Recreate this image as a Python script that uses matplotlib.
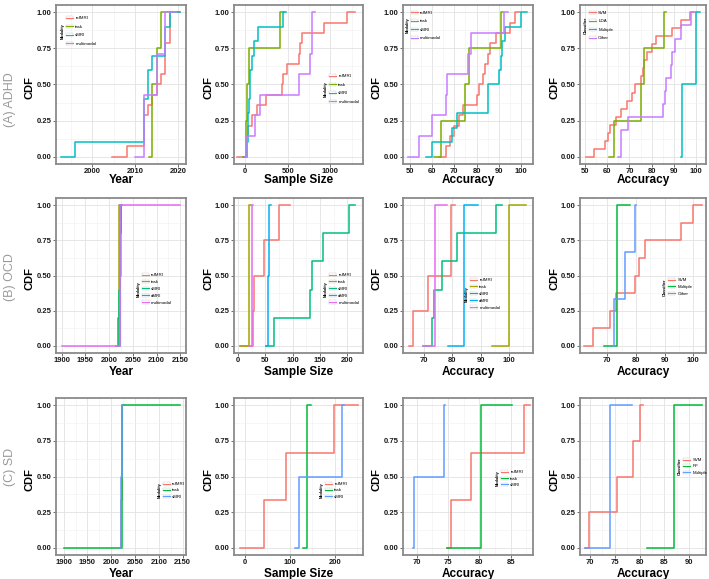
import numpy as np
import matplotlib.pyplot as plt
from matplotlib.lines import Line2D
from matplotlib.patches import Rectangle
from matplotlib.ticker import FixedLocator

plt.rcParams['font.family'] = ['Liberation Sans', 'DejaVu Sans']

# ---------------- data ----------------
mod3 = ['rsfMRI', 'task', 'sMRI']
mod4 = ['rsfMRI', 'task', 'sMRI', 'multimodal']
mod5 = ['rsfMRI', 'task', 'sMRI', 'dMRI', 'multimodal']
clf_adhd = ['SVM', 'LDA', 'Multiple', 'Other']
clf_ocd = ['SVM', 'Multiple', 'Other']
clf_sd = ['SVM', 'RF', 'Multiple']

hue3 = ['#F8766D', '#00BA38', '#619CFF']
hue4 = ['#F8766D', '#7CAE00', '#00BFC4', '#C77CFF']
hue5 = ['#F8766D', '#A3A500', '#00BF7D', '#00B0F6', '#E76BF3']

# (A) ADHD
adhd_year_rsfmri = [2008, 2012, 2012, 2012, 2013, 2014, 2015, 2016, 2017, 2017, 2017, 2018, 2018, 2018]
adhd_year_task = [2014, 2014, 2015, 2016]
adhd_year_smri = [1996, 2012, 2012, 2012, 2013, 2013, 2014, 2017, 2017, 2018]
adhd_year_multi = [2012, 2012, 2012, 2015, 2015, 2017, 2017]
adhd_year_span = [(2004.6, 2020.4), (2013.1, 2018.5), (1992.7, 2020.4), (2010.0, 2019.5)]

adhd_n_rsfmri = [20, 30, 40, 80, 140, 250, 430, 450, 490, 630, 640, 670, 920, 1200]
adhd_n_task = [15, 25, 50, 415]
adhd_n_smri = [25, 35, 40, 50, 55, 65, 78, 105, 155, 450]
adhd_n_multi = [20, 120, 175, 630, 765, 790, 790]
adhd_n_span = [(-90, 1290), (-20, 455), (-10, 475), (0, 825)]

adhd_acc_rsfmri = [66, 68, 70, 72, 74, 80, 81, 83, 84, 85, 86, 89, 95, 97.5]
adhd_acc_task = [64, 75, 76.5, 91]
adhd_acc_smri = [60, 69, 71, 85, 85, 90, 91, 91.5, 93, 100]
adhd_acc_multi = [54, 60, 66, 66.5, 76, 77.5, 92.5]
adhd_acc_span = [(63, 99.8), (61, 92), (57, 103), (49, 94)]

adhd_clf_svm = [54, 59, 60.5, 61.5, 64, 66, 69, 71, 72.5, 75, 76, 76.5, 78, 80, 82, 89, 93, 97]
adhd_clf_lda = [63, 75, 76.5, 85.5]
adhd_clf_multiple = [93.5, 100]
adhd_clf_other = [66, 66, 69.5, 85, 86, 86.5, 88.5, 89, 90.5, 93, 97.5]
adhd_clf_span = [(50.5, 99.5), (61, 86.5), (93, 101.5), (65, 99)]

# (B) OCD
ocd_year_rsfmri = [2022, 2023, 2024, 2025]
ocd_year_task = [2021]
ocd_year_smri = [2018, 2021, 2022, 2023, 2024]
ocd_year_dmri = [2022]
ocd_year_multi = [2022]
ocd_year_span = [(2019, 2028), (2018, 2026), (2014, 2028), (2019, 2026), (1900, 2150)]

ocd_n_rsfmri = [28, 30, 47, 75]
ocd_n_task = [21]
ocd_n_smri = [66.7, 131.5, 135, 156, 204]
ocd_n_dmri = [55, 57]
ocd_n_multi = [25]
ocd_n_span = [(3, 95), (3, 24), (51.5, 215), (51, 60), (20, 27)]

ocd_acc_rsfmri = [66, 71.5, 79.5, 79.5]
ocd_acc_task = [100]
ocd_acc_smri = [72.8, 73.6, 76.3, 81.5, 95.4]
ocd_acc_dmri = [84]
ocd_acc_multi = [74]
ocd_acc_span = [(64.8, 81), (94, 106), (69.5, 97.4), (78.6, 89), (69.8, 78)]

ocd_clf_svm = [65, 71, 73, 79.5, 81, 83, 95.7, 100]
ocd_clf_multiple = [73.3]
ocd_clf_other = [72.5, 76.2, 79.7]
ocd_clf_span = [(62, 103), (69, 78), (72, 80)]

# (C) SD
sd_year_rsfmri = [2021, 2022, 2023]
sd_year_task = [2022]
sd_year_smri = [2021, 2022]
sd_year_span = [(2018, 2026), (1900, 2145), (2018, 2025)]

sd_n_rsfmri = [42, 92, 199]
sd_n_task = [139]
sd_n_smri = [120, 216]
sd_n_span = [(-10, 252), (130, 147), (112, 220)]

sd_acc_rsfmri = [75.5, 78.7, 87.2]
sd_acc_task = [80.2]
sd_acc_smri = [69.6, 74.3]
sd_acc_span = [(74.9, 88.1), (74.8, 85.2), (69.4, 74.5)]

sd_clf_svm = [69.8, 75.5, 78.6, 80]
sd_clf_rf = [87]
sd_clf_multiple = [74]
sd_clf_span = [(69, 80.7), (81.6, 92.5), (69, 78.5)]

row_labels = ['(A) ADHD', '(B) OCD', '(C) SD']
x_labels = ['Year', 'Sample Size', 'Accuracy', 'Accuracy']

# ---------------- panel setup ----------------
panels = [
    # row A
    dict(series=[adhd_year_rsfmri, adhd_year_task, adhd_year_smri, adhd_year_multi],
         span=adhd_year_span, names=mod4, colors=hue4, title='Modality',
         xlim=(1991.6, 2021.8), xticks=[2000, 2010, 2020], leg=(0.077, 0.93)),
    dict(series=[adhd_n_rsfmri, adhd_n_task, adhd_n_smri, adhd_n_multi],
         span=adhd_n_span, names=mod4, colors=hue4, title='Modality',
         xlim=(-128, 1382), xticks=[0, 500, 1000], leg=(0.736, 0.566)),
    dict(series=[adhd_acc_rsfmri, adhd_acc_task, adhd_acc_smri, adhd_acc_multi],
         span=adhd_acc_span, names=mod4, colors=hue4, title='Modality',
         xlim=(46.8, 105.5), xticks=[50, 60, 70, 80, 90, 100], leg=(0.06, 0.965)),
    dict(series=[adhd_clf_svm, adhd_clf_lda, adhd_clf_multiple, adhd_clf_other],
         span=adhd_clf_span, names=clf_adhd, colors=hue4, title='Classifier',
         xlim=(47.8, 104.4), xticks=[50, 60, 70, 80, 90, 100], leg=(0.07, 0.965)),
    # row B
    dict(series=[ocd_year_rsfmri, ocd_year_task, ocd_year_smri, ocd_year_dmri, ocd_year_multi],
         span=ocd_year_span, names=mod5, colors=hue5, title='Modality',
         xlim=(1888, 2162), xticks=[1900, 1950, 2000, 2050, 2100, 2150], leg=(0.66, 0.516)),
    dict(series=[ocd_n_rsfmri, ocd_n_task, ocd_n_smri, ocd_n_dmri, ocd_n_multi],
         span=ocd_n_span, names=mod5, colors=hue5, title='Modality',
         xlim=(-7.3, 229), xticks=[0, 50, 100, 150, 200], leg=(0.736, 0.516)),
    dict(series=[ocd_acc_rsfmri, ocd_acc_task, ocd_acc_smri, ocd_acc_dmri, ocd_acc_multi],
         span=ocd_acc_span, names=mod5, colors=hue5, title='Modality',
         xlim=(62.6, 108.5), xticks=[70, 80, 90, 100], leg=(0.515, 0.484)),
    dict(series=[ocd_clf_svm, ocd_clf_multiple, ocd_clf_other],
         span=ocd_clf_span, names=clf_ocd, colors=hue3, title='Classifier',
         xlim=(60.5, 104.4), xticks=[70, 80, 90, 100], leg=(0.70, 0.484)),
    # row C
    dict(series=[sd_year_rsfmri, sd_year_task, sd_year_smri],
         span=sd_year_span, names=mod3, colors=hue3, title='Modality',
         xlim=(1884, 2157), xticks=[1900, 1950, 2000, 2050, 2100, 2150], leg=(0.82, 0.465)),
    dict(series=[sd_n_rsfmri, sd_n_task, sd_n_smri],
         span=sd_n_span, names=mod3, colors=hue3, title='Modality',
         xlim=(-24, 263), xticks=[0, 100, 200], leg=(0.705, 0.465)),
    dict(series=[sd_acc_rsfmri, sd_acc_task, sd_acc_smri],
         span=sd_acc_span, names=mod3, colors=hue3, title='Modality',
         xlim=(67.8, 88.6), xticks=[70, 75, 80, 85], leg=(0.754, 0.54)),
    dict(series=[sd_clf_svm, sd_clf_rf, sd_clf_multiple],
         span=sd_clf_span, names=clf_sd, colors=hue3, title='Classifier',
         xlim=(68, 93.4), xticks=[70, 75, 80, 85, 90], leg=(0.82, 0.618)),
]

W, H = 709, 579
col_px = [(56, 186), (234, 363), (403, 533), (580, 706)]
row_px = [(5, 164), (198, 353), (398, 555)]
xlab_base = [183, 375, 577]
rowlab_y = [100, 277, 467]
leg_space = [1.0, 0.62, 0.5]

fig = plt.figure(figsize=(W / 100, H / 100), dpi=100)
fig.patch.set_facecolor('white')

legends = []
for i, p in enumerate(panels):
    r, c = divmod(i, 4)
    x0, x1 = col_px[c]
    y0, y1 = row_px[r]
    ax = fig.add_axes([x0 / W, 1 - y1 / H, (x1 - x0) / W, (y1 - y0) / H])

    for vals, (lo, hi), col in zip(p['series'], p['span'], p['colors']):
        v = np.sort(np.asarray(vals, dtype=float))
        n = len(v)
        xs = np.concatenate([[lo], v, [hi]])
        ys = np.concatenate([[0.0], np.arange(1, n + 1) / n, [1.0]])
        ax.step(xs, ys, where='post', color=col, lw=1.1, zorder=3)

    ax.set_xlim(*p['xlim'])
    ax.set_ylim(-0.05, 1.05)
    ax.set_xticks(p['xticks'])
    ax.set_yticks([0, 0.25, 0.5, 0.75, 1.0])
    ax.set_yticklabels(['0.00', '0.25', '0.50', '0.75', '1.00'])
    xt = p['xticks']
    step = xt[1] - xt[0]
    ax.xaxis.set_minor_locator(FixedLocator([t - step / 2 for t in xt] + [xt[-1] + step / 2]))
    ax.yaxis.set_minor_locator(FixedLocator([0.125, 0.375, 0.625, 0.875]))
    ax.grid(which='major', color='#e2e2e2', lw=0.6, zorder=0)
    ax.grid(which='minor', color='#f0f0f0', lw=0.4, zorder=0)
    ax.set_axisbelow(True)
    for s in ax.spines.values():
        s.set_color('#8a8a8a')
        s.set_linewidth(1.3)
    ax.tick_params(which='major', direction='out', length=2, width=0.6, color='#555555',
                   labelsize=5.5, labelcolor='#1a1a1a', pad=1)
    ax.tick_params(which='minor', length=0)
    for lab in ax.get_xticklabels() + ax.get_yticklabels():
        lab.set_fontweight('bold')

    # ggplot-like legend keys: light grey box with the coloured line inside
    handles = [(Rectangle((0, 0), 1, 1, fc='white', ec='#c8c8c8', lw=0.3),
                Line2D([], [], color=col, lw=0.8)) for col in p['colors']]
    leg = ax.legend(handles, p['names'], loc='upper left', bbox_to_anchor=p['leg'],
                    fontsize=3.2, frameon=False, borderpad=0, borderaxespad=0,
                    handlelength=1.6, handletextpad=0.5, labelspacing=leg_space[r])
    legends.append((leg, p['title']))

    fig.text((x0 - 26) / W, 1 - ((y0 + y1) / 2 + 3) / H, 'CDF', rotation=90,
             ha='center', va='center', fontsize=8, fontweight='bold')
    fig.text((x0 + x1) / 2 / W, 1 - xlab_base[r] / H, x_labels[c],
             ha='center', va='baseline', fontsize=8.5, fontweight='bold')

for r, lab in enumerate(row_labels):
    fig.text(10 / W, 1 - rowlab_y[r] / H, lab, rotation=90, ha='center', va='center',
             fontsize=9, color='#9a9a9a')

# rotated legend titles next to the legend entries
fig.canvas.draw()
for leg, title in legends:
    bb = leg.get_window_extent()
    fig.text((bb.x0 - 3) / W, (bb.y0 + bb.y1) / 2 / H, title, rotation=90,
             ha='center', va='center', fontsize=2.8, fontweight='bold')

fig.savefig('out.png', dpi=100, facecolor='white')
